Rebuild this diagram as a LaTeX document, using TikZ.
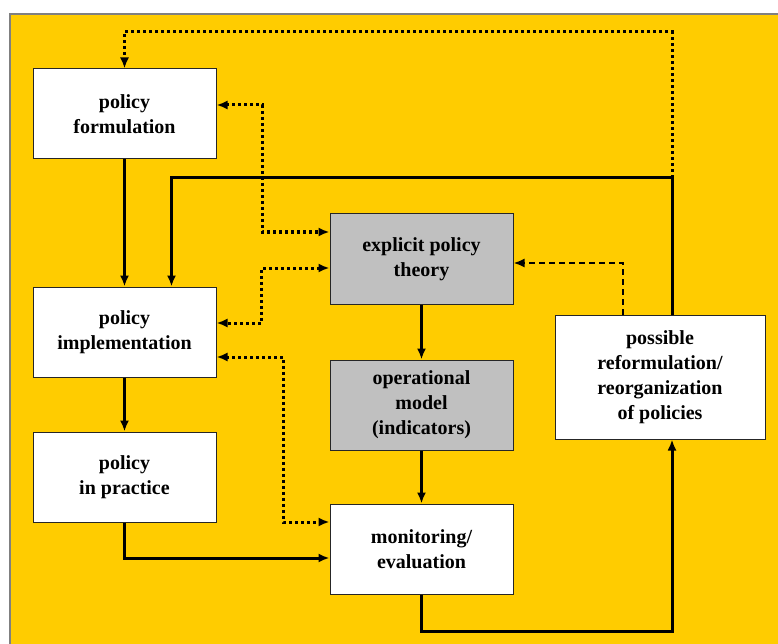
\documentclass[tikz,border=0pt]{standalone}
\usepackage{fontspec}
\setmainfont{Liberation Serif}
\usetikzlibrary{arrows.meta}
\definecolor{bgyellow}{RGB}{255,204,0}
\definecolor{boxgray}{RGB}{192,192,192}
\begin{document}
\begin{tikzpicture}[x=1pt, y=-1pt,
		box/.style={draw=black!85, line width=1pt, fill=white, minimum width=183pt, minimum height=90pt, inner sep=0pt, align=center, font=\fontsize{20}{25}\selectfont\bfseries},
		graybox/.style={box, fill=boxgray},
		flow/.style={line width=3pt, -{Latex[length=11pt,width=9pt]}},
		dotflow/.style={flow, dash pattern=on 3pt off 3pt},
		dashflow/.style={line width=2pt, dash pattern=on 6pt off 4pt, -{Latex[length=11pt,width=9pt]}}]
			\useasboundingbox (0, 0) rectangle (778, 644);
			\fill[color=bgyellow] (10, 14) rectangle (778, 644);
			\draw[color=gray, line width=1.5pt] (778, 14) -- (10, 14) -- (10, 644);

			\node[box] (form) at (124.5, 114) {policy\\formulation};
			\node[box] (impl) at (124.5, 332) {policy\\implementation};
			\node[box] (prac) at (124.5, 477) {policy\\in practice};
			\node[graybox] (theory) at (421.5, 259) {explicit policy\\theory};
			\node[graybox] (opmodel) at (421.5, 405) {operational\\model\\(indicators)};
			\node[box] (monit) at (421.5, 549) {monitoring/\\evaluation};
			\node[box, minimum width=210pt, minimum height=124pt] (reform) at (660, 377) {possible\\reformulation/\\reorganization\\of policies};

			\coordinate (topjoin) at (672, 178);
			\coordinate (toprail) at (672, 32);
			\coordinate (botrail) at (672, 631);

			\draw[flow] (form) -- (impl);
			\draw[flow] (impl) -- (prac);
			\draw[flow] (theory) -- (opmodel);
			\draw[flow] (opmodel) -- (monit);
			\draw[flow] (prac.south) |- ([yshift=-9pt]monit.west);
			\draw[flow] (monit.south) -- (monit.south |- botrail) -| (reform.south -| botrail);
			\draw[flow] (reform.north -| topjoin) -- (topjoin) -| ([xshift=47pt]impl.north);
			\draw[dotflow] (topjoin) -- (toprail) -| (form.north);
			\draw[dashflow] ([xshift=-37pt]reform.north) |- ([yshift=-4pt]theory.east);

			\draw[dotflow, {Latex[length=11pt,width=9pt]}-{Latex[length=11pt,width=9pt]}] ([yshift=9pt]form.east) -- ++(46, 0) |- ([yshift=27pt]theory.west);
			\draw[dotflow, {Latex[length=11pt,width=9pt]}-{Latex[length=11pt,width=9pt]}] ([yshift=-9pt]theory.west) -- ++(-68, 0) |- ([yshift=9pt]impl.east);
			\draw[dotflow, {Latex[length=11pt,width=9pt]}-{Latex[length=11pt,width=9pt]}] ([yshift=-25pt]impl.east) -- ++(67, 0) |- ([yshift=27pt]monit.west);
		\end{tikzpicture}
\end{document}
